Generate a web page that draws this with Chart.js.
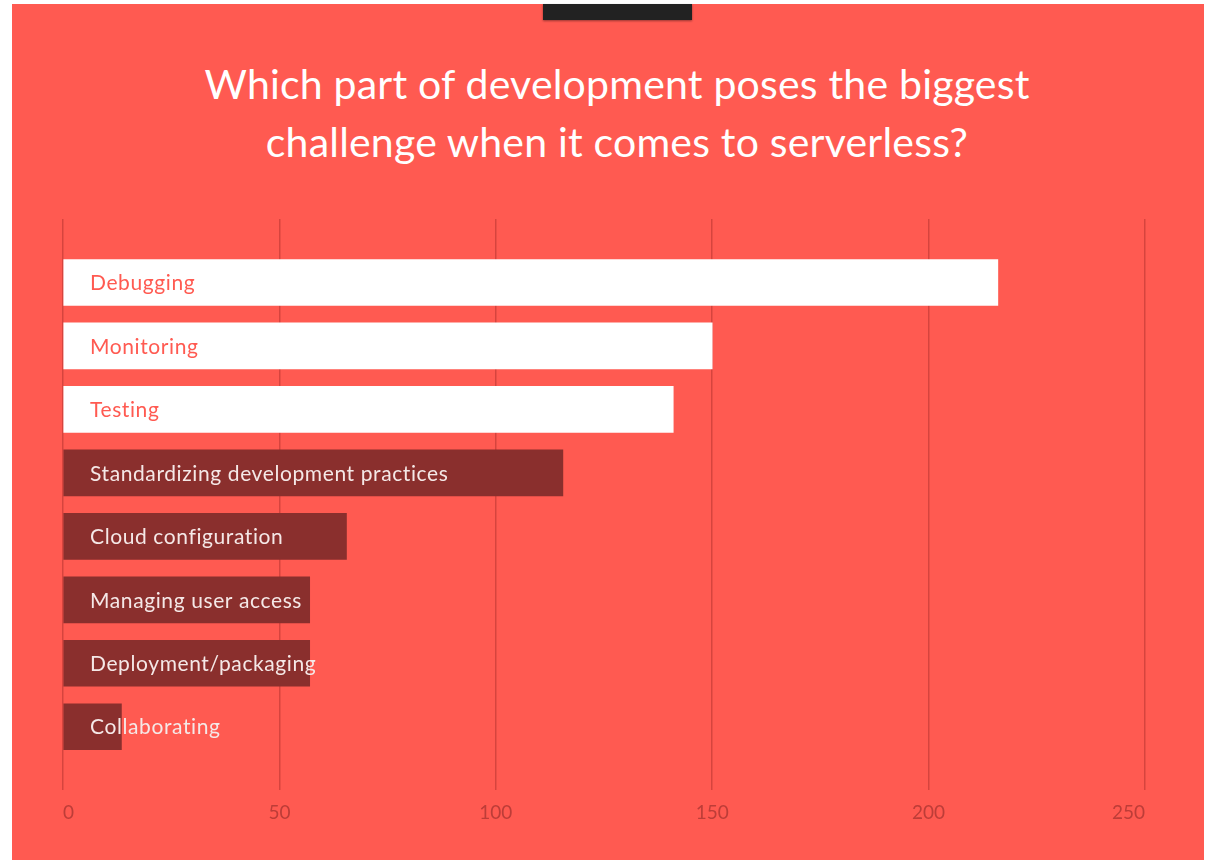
<!DOCTYPE html>
<html>
<head>
<meta charset="utf-8">
<script src="https://cdn.jsdelivr.net/npm/chart.js@4.4.0/dist/chart.umd.min.js"></script>
<style>
  html, body { margin: 0; padding: 0; background: #fff; }
  body { width: 1208px; height: 860px; position: relative; overflow: hidden; }
  .panel { position: absolute; left: 12px; top: 4px; width: 1192px; height: 856px; background: #ff5a51; }
  .tab { position: absolute; left: 543px; top: 4px; width: 149px; height: 16px; background: #222; box-shadow: 0 1px 2px rgba(0,0,0,0.4); }
  .title { position: absolute; left: 117px; width: 1000px; top: 55px; text-align: center; color: #fff;
           font-family: Lato, "Open Sans", sans-serif; font-size: 41px; line-height: 58px; letter-spacing: 0.2px; }
  #chart { position: absolute; left: 0; top: 0; }
</style>
</head>
<body>
<div class="panel"></div>
<div class="tab"></div>
<div class="title">Which part of development poses the biggest<br>challenge when it comes to serverless?</div>
<canvas id="chart" width="1208" height="860"></canvas>
<script>
const categories = ['Debugging', 'Monitoring', 'Testing', 'Standardizing development practices',
  'Cloud configuration', 'Managing user access', 'Deployment/packaging', 'Collaborating'];
const responses = [216, 150, 141, 115.5, 65.5, 57, 57, 13.5];
const highlighted = [true, true, true, false, false, false, false, false];
const xTicks = [0, 50, 100, 150, 200, 250];

const red = '#ff5a51';
const darkRed = '#8a2f2d';

// empty slots above and below so the grid runs half a row past the bars
const labels = [''].concat(categories, ['']);
const values = [null].concat(responses, [null]);
const colors = ['#fff'].concat(highlighted.map(h => h ? '#ffffff' : darkRed), ['#fff']);

const barLabels = {
  id: 'barLabels',
  afterDatasetsDraw(chart) {
    const ctx = chart.ctx;
    const meta = chart.getDatasetMeta(0);
    ctx.save();
    ctx.font = '21px Lato, "Open Sans", sans-serif';
    ctx.letterSpacing = '0.6px';
    ctx.textBaseline = 'middle';
    ctx.textAlign = 'left';
    categories.forEach((name, i) => {
      const bar = meta.data[i + 1];
      ctx.fillStyle = highlighted[i] ? red : '#f5e8e7';
      ctx.fillText(name, chart.chartArea.left + 27, bar.y + 1);
    });
    ctx.restore();
  }
};

new Chart(document.getElementById('chart'), {
  type: 'bar',
  data: {
    labels: labels,
    datasets: [{
      data: values,
      backgroundColor: colors,
      barThickness: 46,
      borderWidth: 0
    }]
  },
  options: {
    indexAxis: 'y',
    responsive: false,
    animation: false,
    layout: { padding: { left: 63, right: 63, top: 219, bottom: 25 } },
    plugins: { legend: { display: false }, tooltip: { enabled: false } },
    scales: {
      x: {
        min: 0,
        max: 250,
        afterBuildTicks: axis => { axis.ticks = xTicks.map(v => ({ value: v })); },
        border: { display: false },
        grid: { color: 'rgba(120,20,20,0.3)', lineWidth: 1.5, drawTicks: false },
        ticks: {
          align: 'inner',
          padding: 11,
          color: '#bd3d38',
          font: { family: 'Lato, "Open Sans", sans-serif', size: 19 }
        }
      },
      y: {
        offset: false,
        display: false,
        grid: { display: false }
      }
    }
  },
  plugins: [barLabels]
});
</script>
</body>
</html>
